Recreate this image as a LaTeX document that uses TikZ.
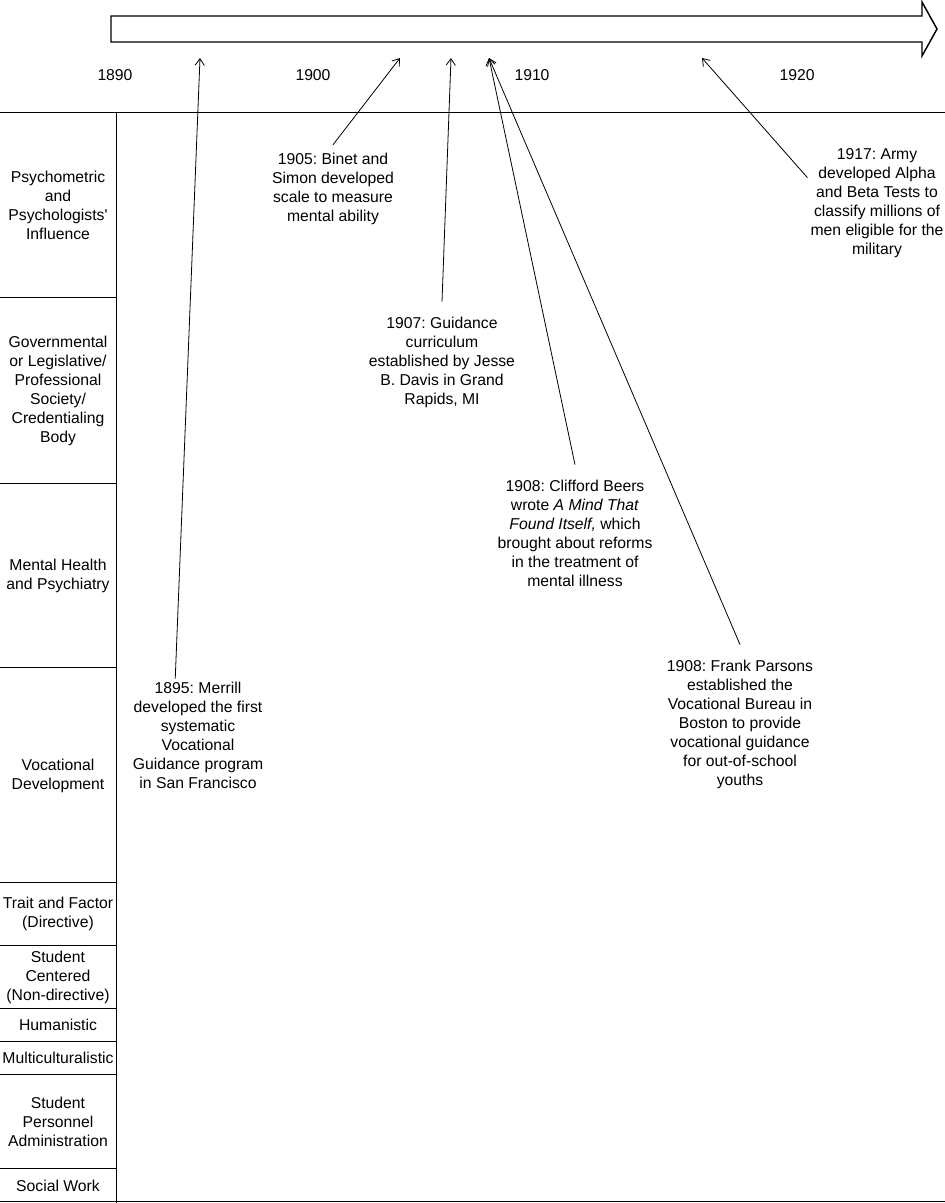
\documentclass[tikz,border=0pt]{standalone}
\usepackage{fontspec}
\setmainfont{Liberation Sans}
\usetikzlibrary{arrows.meta}
\frenchspacing

\begin{document}
\begin{tikzpicture}[
    x=0.75pt,y=-0.75pt,
    line width=0.6pt,
    every node/.style={font=\fontsize{11.8}{14.25}\selectfont},
    row/.style={align=center,inner sep=0pt},
    event/.style={align=center,inner sep=2pt},
    >={Straight Barb[length=5pt,width=7pt]}]
  \useasboundingbox (0,0) rectangle (945,1203);

  % time axis
  \draw[line width=1.1pt] (111,16) -- (922,16) -- (922,2) -- (937,29)
    -- (922,56) -- (922,42) -- (111,42) -- cycle;
  \node (y1890) at (115,75) {1890};
  \node (y1900) at (313,75) {1900};
  \node (y1910) at (532,75) {1910};
  \node (y1920) at (797,75) {1920};
  \coordinate (t1895) at (200,58);
  \coordinate (t1905) at (400,58);
  \coordinate (t1907) at (451,58);
  \coordinate (t1908) at (489,58);
  \coordinate (t1917) at (702,58);

  % grid
  \draw (0,112) -- (945,112);
  \draw (0,1201.5) -- (945,1201.5);
  \draw (116,112) -- (116,1203);
  \draw (0,297) -- (116,297) (0,483) -- (116,483) (0,667) -- (116,667)
    (0,882) -- (116,882) (0,945) -- (116,945) (0,1008) -- (116,1008)
    (0,1041) -- (116,1041) (0,1074) -- (116,1074) (0,1168) -- (116,1168);

  \node[row] (psych) at (58,205) {Psychometric\\and\\Psychologists\textquotesingle\\Influence};
  \node[row] (gov) at (58,391) {Governmental\\or Legislative/\\Professional\\Society/\\Credentialing\\Body};
  \node[row] (mental) at (58,576) {Mental Health\\and Psychiatry};
  \node[row] (voc) at (58,776) {Vocational\\Development};
  \node[row] (trait) at (58,914) {Trait and Factor\\(Directive)};
  \node[row] (student) at (58,977) {Student\\Centered\\(Non-directive)};
  \node[row] (human) at (58,1025) {Humanistic};
  \node[row] (multi) at (58,1058) {Multiculturalistic};
  \node[row] (spa) at (58,1122) {Student\\Personnel\\Administration};
  \node[row] (social) at (58,1186) {Social Work};

  % events
  \node[event] (merrill) at (198,735) {1895: Merrill\\developed the first\\systematic\\Vocational\\Guidance program\\in San Francisco};
  \node[event] (binet) at (333,189) {1905: Binet and\\Simon developed\\scale to measure\\mental ability};
  \node[event] (davis) at (442,362) {1907: Guidance\\curriculum\\established by Jesse\\B. Davis in Grand\\Rapids, MI};
  \node[event] (beers) at (575,533) {1908: Clifford Beers\\wrote \emph{A Mind That}\\\emph{Found Itself,} which\\brought about reforms\\in the treatment of\\mental illness};
  \node[event] (parsons) at (740,724) {1908: Frank Parsons\\established the\\Vocational Bureau in\\Boston to provide\\vocational guidance\\for out-of-school\\youths};
  \node[event] (army) at (877,203) {1917: Army\\developed Alpha\\and Beta Tests to\\classify millions of\\men eligible for the\\military};

  \draw[->] (merrill.112) -- (t1895);
  \draw[->] ([yshift=4pt]binet.north) -- (t1905);
  \draw[->] ([yshift=9pt]davis.north) -- (t1907);
  \draw[->] ([yshift=9pt]beers.north) -- (t1908);
  \draw[->] ([yshift=9pt]parsons.north) -- (t1908);
  \draw[->] (army.160) -- (t1917);
\end{tikzpicture}
\end{document}
